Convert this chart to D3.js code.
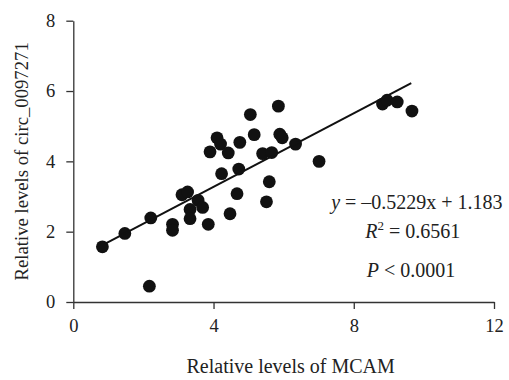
<!DOCTYPE html>
<html>
<head>
<meta charset="utf-8">
<script src="https://cdn.jsdelivr.net/npm/d3@7"></script>
<style>
  body { margin: 0; background: #fff; }
  text { font-family: "Liberation Serif", "DejaVu Serif", serif; fill: #222; }
  .axis path, .axis line { stroke: #333; stroke-width: 1.3; }
  .axis text { font-size: 18.5px; font-family: "Liberation Serif", serif; fill: #222; }
</style>
</head>
<body>
<svg width="509" height="380"></svg>
<script>
// MCAM (x) vs circ_0097271 (y)
const mcam = [0.83, 1.47, 2.17, 2.21, 2.83, 2.83, 3.10, 3.26, 3.33, 3.33, 3.56, 3.69, 3.85,
  3.90, 4.10, 4.20, 4.23, 4.42, 4.47, 4.67, 4.72, 4.75, 5.05, 5.16, 5.40, 5.51, 5.59,
  5.66, 5.85, 5.89, 5.96, 6.34, 7.01, 8.82, 8.95, 9.24, 9.66];
const circ = [1.57, 1.95, 0.45, 2.39, 2.21, 2.04, 3.05, 3.13, 2.63, 2.37, 2.89, 2.69, 2.21,
  4.27, 4.67, 4.49, 3.65, 4.24, 2.51, 3.08, 3.78, 4.54, 5.33, 4.76, 4.22, 2.85, 3.42,
  4.25, 5.57, 4.77, 4.67, 4.49, 4.00, 5.63, 5.74, 5.69, 5.43];
const xTicks = [0, 4, 8, 12];
const yTicks = [0, 2, 4, 6, 8];
const slope = 0.5229, intercept = 1.183;
const fitRange = [0.9, 9.64];

const margin = {top: 20.7, right: 15, bottom: 78, left: 73.3};
const width = 509 - margin.left - margin.right;
const height = 380 - margin.top - margin.bottom;

const svg = d3.select("svg")
  .append("g")
  .attr("transform", "translate(" + margin.left + "," + margin.top + ")");

const x = d3.scaleLinear().domain([0, 12]).range([0, width]);
const y = d3.scaleLinear().domain([0, 8]).range([height, 0]);

svg.append("g")
  .attr("class", "axis axis--x")
  .attr("transform", "translate(0," + height + ")")
  .call(d3.axisBottom(x).tickValues(xTicks).tickSize(7).tickSizeOuter(0).tickPadding(10));

svg.append("g")
  .attr("class", "axis axis--y")
  .call(d3.axisLeft(y).tickValues(yTicks).tickSize(7).tickSizeOuter(0).tickPadding(11));

svg.selectAll(".dot")
  .data(mcam.map((d, i) => [d, circ[i]]))
  .enter().append("circle")
  .attr("class", "dot")
  .attr("cx", d => x(d[0]))
  .attr("cy", d => y(d[1]))
  .attr("r", 6.4)
  .attr("fill", "#111");

const line = d3.line()
  .x(d => x(d))
  .y(d => y(slope * d + intercept));

svg.append("path")
  .datum(fitRange)
  .attr("d", line)
  .attr("stroke", "#111")
  .attr("stroke-width", 2)
  .attr("fill", "none");

// regression annotation
const note = svg.append("g").attr("font-size", 20).attr("text-anchor", "middle");
const eq = note.append("text").attr("x", x(9.8)).attr("y", y(2.65));
eq.append("tspan").attr("font-style", "italic").text("y");
eq.append("tspan").text(" = \u20130.5229x + 1.183");
const r2 = note.append("text").attr("x", x(9.68)).attr("y", y(1.81));
r2.append("tspan").attr("font-style", "italic").text("R");
r2.append("tspan").attr("font-size", 13).attr("dy", -8).text("2");
r2.append("tspan").attr("dy", 8).text(" = 0.6561");
const p = note.append("text").attr("x", x(9.63)).attr("y", y(0.7));
p.append("tspan").attr("font-style", "italic").text("P");
p.append("tspan").text(" < 0.0001");

svg.append("text")
  .attr("x", x(6.2))
  .attr("y", height + 71)
  .attr("text-anchor", "middle")
  .attr("font-size", 20)
  .text("Relative levels of MCAM");

svg.append("text")
  .attr("transform", "rotate(-90)")
  .attr("x", -y(4))
  .attr("y", -45)
  .attr("text-anchor", "middle")
  .attr("font-size", 18.7)
  .text("Relative levels of circ_0097271");
</script>
</body>
</html>
